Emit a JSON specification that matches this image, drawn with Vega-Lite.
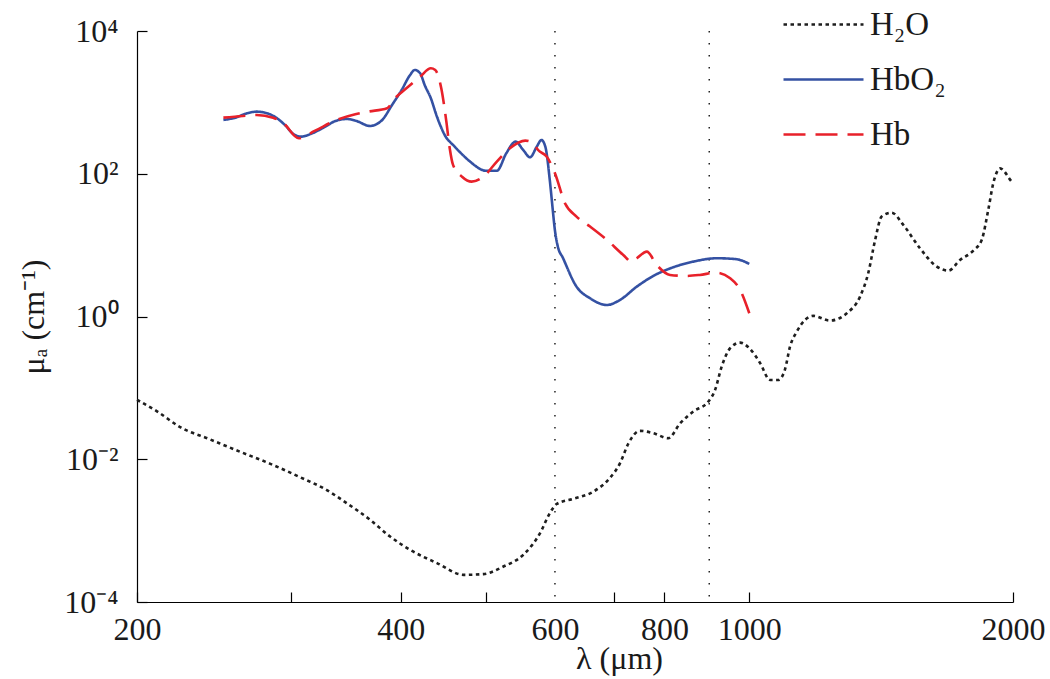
{
  "$schema": "https://vega.github.io/schema/vega-lite/v6.json",
  "width": 876,
  "height": 571,
  "autosize": {"type": "none"},
  "padding": {"left": 137, "top": 31, "right": 37, "bottom": 77},
  "background": "white",
  "config": {
    "view": {"stroke": null},
    "font": "Liberation Serif",
    "axis": {"domainColor": "#000", "domainWidth": 1.2, "tickColor": "#000", "tickWidth": 1.2, "labelColor": "#1a1a1a", "titleColor": "#1a1a1a", "labelFont": "Liberation Serif", "titleFont": "Liberation Serif", "titleFontWeight": "normal", "grid": false}
  },
  "layer": [
    {
      "data": {"values": [{"v": 600}, {"v": 900}]},
      "mark": {"type": "rule", "strokeDash": [1.5, 10.5], "color": "#000", "strokeWidth": 1.3},
      "encoding": {
        "x": {"field": "v", "type": "quantitative", "scale": {"type": "log", "domain": [200, 2000], "nice": false}}
      }
    },
    {
      "data": {"values": [
        {"s": "H₂O", "x": 200, "y": 0.068}, {"s": "H₂O", "x": 211, "y": 0.0466}, {"s": "H₂O", "x": 224, "y": 0.0282}, {"s": "H₂O", "x": 242, "y": 0.0191}, {"s": "H₂O", "x": 262, "y": 0.0128}, {"s": "H₂O", "x": 284, "y": 0.00862}, {"s": "H₂O", "x": 307, "y": 0.00561}, {"s": "H₂O", "x": 329, "y": 0.00373}, {"s": "H₂O", "x": 347, "y": 0.00243}, {"s": "H₂O", "x": 369, "y": 0.00142}, {"s": "H₂O", "x": 389, "y": 0.000827}, {"s": "H₂O", "x": 410, "y": 0.000538}, {"s": "H₂O", "x": 440, "y": 0.000351}, {"s": "H₂O", "x": 472, "y": 0.00024}, {"s": "H₂O", "x": 497, "y": 0.000246}, {"s": "H₂O", "x": 524, "y": 0.000314}, {"s": "H₂O", "x": 552, "y": 0.000458}, {"s": "H₂O", "x": 577, "y": 0.000923}, {"s": "H₂O", "x": 592, "y": 0.00176}, {"s": "H₂O", "x": 603, "y": 0.00237}, {"s": "H₂O", "x": 630, "y": 0.00279}, {"s": "H₂O", "x": 664, "y": 0.00353}, {"s": "H₂O", "x": 693, "y": 0.00544}, {"s": "H₂O", "x": 712, "y": 0.00882}, {"s": "H₂O", "x": 728, "y": 0.0168}, {"s": "H₂O", "x": 750, "y": 0.025}, {"s": "H₂O", "x": 777, "y": 0.0232}, {"s": "H₂O", "x": 808, "y": 0.0197}, {"s": "H₂O", "x": 834, "y": 0.032}, {"s": "H₂O", "x": 863, "y": 0.0466}, {"s": "H₂O", "x": 898, "y": 0.0643}, {"s": "H₂O", "x": 914, "y": 0.0938}, {"s": "H₂O", "x": 930, "y": 0.199}, {"s": "H₂O", "x": 951, "y": 0.36}, {"s": "H₂O", "x": 976, "y": 0.431}, {"s": "H₂O", "x": 1000, "y": 0.36}, {"s": "H₂O", "x": 1029, "y": 0.222}, {"s": "H₂O", "x": 1056, "y": 0.129}, {"s": "H₂O", "x": 1079, "y": 0.129}, {"s": "H₂O", "x": 1098, "y": 0.179}, {"s": "H₂O", "x": 1113, "y": 0.379}, {"s": "H₂O", "x": 1133, "y": 0.614}, {"s": "H₂O", "x": 1183, "y": 1.02}, {"s": "H₂O", "x": 1236, "y": 0.876}, {"s": "H₂O", "x": 1292, "y": 1.11}, {"s": "H₂O", "x": 1338, "y": 1.9}, {"s": "H₂O", "x": 1367, "y": 4.04}, {"s": "H₂O", "x": 1392, "y": 11.8}, {"s": "H₂O", "x": 1416, "y": 25.1}, {"s": "H₂O", "x": 1454, "y": 28.5}, {"s": "H₂O", "x": 1499, "y": 19.2}, {"s": "H₂O", "x": 1566, "y": 9.05}, {"s": "H₂O", "x": 1637, "y": 5.0}, {"s": "H₂O", "x": 1688, "y": 4.39}, {"s": "H₂O", "x": 1740, "y": 6.2}, {"s": "H₂O", "x": 1802, "y": 8.38}, {"s": "H₂O", "x": 1842, "y": 11.8}, {"s": "H₂O", "x": 1874, "y": 31.1}, {"s": "H₂O", "x": 1899, "y": 73.6}, {"s": "H₂O", "x": 1933, "y": 119}, {"s": "H₂O", "x": 1993, "y": 77.5}, {"s": "H₂O", "x": 2000, "y": 74},
        {"s": "HbO₂", "x": 251, "y": 567}, {"s": "HbO₂", "x": 259, "y": 611}, {"s": "HbO₂", "x": 267, "y": 703}, {"s": "HbO₂", "x": 274, "y": 741}, {"s": "HbO₂", "x": 280, "y": 718}, {"s": "HbO₂", "x": 289, "y": 599}, {"s": "HbO₂", "x": 295, "y": 483}, {"s": "HbO₂", "x": 302, "y": 357}, {"s": "HbO₂", "x": 308, "y": 331}, {"s": "HbO₂", "x": 317, "y": 369}, {"s": "HbO₂", "x": 328, "y": 457}, {"s": "HbO₂", "x": 337, "y": 549}, {"s": "HbO₂", "x": 347, "y": 585}, {"s": "HbO₂", "x": 356, "y": 549}, {"s": "HbO₂", "x": 369, "y": 467}, {"s": "HbO₂", "x": 381, "y": 567}, {"s": "HbO₂", "x": 391, "y": 919}, {"s": "HbO₂", "x": 401, "y": 1492}, {"s": "HbO₂", "x": 410, "y": 2420}, {"s": "HbO₂", "x": 415, "y": 2843}, {"s": "HbO₂", "x": 421, "y": 2556}, {"s": "HbO₂", "x": 426, "y": 1753}, {"s": "HbO₂", "x": 433, "y": 1141}, {"s": "HbO₂", "x": 440, "y": 630}, {"s": "HbO₂", "x": 449, "y": 350}, {"s": "HbO₂", "x": 461, "y": 240}, {"s": "HbO₂", "x": 473, "y": 174}, {"s": "HbO₂", "x": 480, "y": 148}, {"s": "HbO₂", "x": 501, "y": 110}, {"s": "HbO₂", "x": 515, "y": 110}, {"s": "HbO₂", "x": 528, "y": 194}, {"s": "HbO₂", "x": 541, "y": 282}, {"s": "HbO₂", "x": 552, "y": 215}, {"s": "HbO₂", "x": 562, "y": 170}, {"s": "HbO₂", "x": 572, "y": 240}, {"s": "HbO₂", "x": 579, "y": 297}, {"s": "HbO₂", "x": 585, "y": 240}, {"s": "HbO₂", "x": 592, "y": 80}, {"s": "HbO₂", "x": 596, "y": 35}, {"s": "HbO₂", "x": 600, "y": 16}, {"s": "HbO₂", "x": 604, "y": 10}, {"s": "HbO₂", "x": 613, "y": 6.55}, {"s": "HbO₂", "x": 635, "y": 2.62}, {"s": "HbO₂", "x": 658, "y": 1.8}, {"s": "HbO₂", "x": 688, "y": 1.45}, {"s": "HbO₂", "x": 712, "y": 1.71}, {"s": "HbO₂", "x": 744, "y": 2.62}, {"s": "HbO₂", "x": 777, "y": 3.7}, {"s": "HbO₂", "x": 819, "y": 4.9}, {"s": "HbO₂", "x": 863, "y": 5.87}, {"s": "HbO₂", "x": 918, "y": 6.55}, {"s": "HbO₂", "x": 967, "y": 6.35}, {"s": "HbO₂", "x": 1000, "y": 5.45},
        {"s": "Hb", "x": 251, "y": 611}, {"s": "Hb", "x": 264, "y": 645}, {"s": "Hb", "x": 274, "y": 666}, {"s": "Hb", "x": 286, "y": 611}, {"s": "Hb", "x": 294, "y": 510}, {"s": "Hb", "x": 306, "y": 314}, {"s": "Hb", "x": 319, "y": 398}, {"s": "Hb", "x": 338, "y": 567}, {"s": "Hb", "x": 355, "y": 681}, {"s": "Hb", "x": 367, "y": 741}, {"s": "Hb", "x": 386, "y": 827}, {"s": "Hb", "x": 394, "y": 1141}, {"s": "Hb", "x": 406, "y": 1576}, {"s": "Hb", "x": 421, "y": 2291}, {"s": "Hb", "x": 433, "y": 3003}, {"s": "Hb", "x": 438, "y": 2843}, {"s": "Hb", "x": 445, "y": 1576}, {"s": "Hb", "x": 451, "y": 537}, {"s": "Hb", "x": 455, "y": 228}, {"s": "Hb", "x": 459, "y": 133}, {"s": "Hb", "x": 470, "y": 91}, {"s": "Hb", "x": 482, "y": 77.5}, {"s": "Hb", "x": 497, "y": 91}, {"s": "Hb", "x": 515, "y": 148}, {"s": "Hb", "x": 533, "y": 228}, {"s": "Hb", "x": 555, "y": 291}, {"s": "Hb", "x": 567, "y": 267}, {"s": "Hb", "x": 574, "y": 215}, {"s": "Hb", "x": 587, "y": 174}, {"s": "Hb", "x": 600, "y": 102}, {"s": "Hb", "x": 616, "y": 38.6}, {"s": "Hb", "x": 635, "y": 25.1}, {"s": "Hb", "x": 658, "y": 18.2}, {"s": "Hb", "x": 688, "y": 11.8}, {"s": "Hb", "x": 718, "y": 7.29}, {"s": "Hb", "x": 734, "y": 5.87}, {"s": "Hb", "x": 744, "y": 6.55}, {"s": "Hb", "x": 764, "y": 8.11}, {"s": "Hb", "x": 784, "y": 5.28}, {"s": "Hb", "x": 812, "y": 3.82}, {"s": "Hb", "x": 848, "y": 3.7}, {"s": "Hb", "x": 878, "y": 3.82}, {"s": "Hb", "x": 916, "y": 4.12}, {"s": "Hb", "x": 951, "y": 3.44}, {"s": "Hb", "x": 976, "y": 2.36}, {"s": "Hb", "x": 1000, "y": 1.11}
      ]},
      "mark": {"type": "line", "interpolate": "monotone", "strokeWidth": 2.6},
      "encoding": {
        "x": {
          "field": "x", "type": "quantitative",
          "scale": {"type": "log", "domain": [200, 2000], "nice": false},
          "axis": {
            "values": [200, 300, 400, 500, 600, 700, 800, 900, 1000, 2000],
            "labelExpr": "indexof([200,400,600,800,1000,2000], datum.value) >= 0 ? toString(datum.value) : ''",
            "labelOverlap": false, "labelFlush": false,
            "tickSize": -10, "labelPadding": 22, "labelFontSize": 32, "labelBaseline": "top",
            "tickOpacity": {"condition": {"test": "datum.value == 600 || datum.value == 900", "value": 0}, "value": 1},
            "title": "λ (μm)", "titleFontSize": 32, "titleX": 482, "titleY": 66, "titleBaseline": "alphabetic", "titleAlign": "center"
          }
        },
        "y": {
          "field": "y", "type": "quantitative",
          "scale": {"type": "log", "domain": [0.0001, 10000], "nice": false},
          "axis": {
            "values": [0.0001, 0.01, 1, 100, 10000],
            "labelExpr": "datum.value >= 5000 ? '10⁴' : datum.value >= 50 ? '10²' : datum.value >= 0.5 ? '10⁰' : datum.value >= 0.005 ? '10⁻²' : '10⁻⁴'",
            "labelOverlap": false, "labelFlush": false,
            "tickSize": -10, "labelPadding": 29, "labelFontSize": 32,
            "title": "μₐ (cm⁻¹)", "titleFontSize": 32, "titleX": -94, "titleY": 285.5, "titleBaseline": "alphabetic", "titleAlign": "center", "titleAngle": -90
          }
        },
        "color": {
          "field": "s", "type": "nominal",
          "scale": {"domain": ["H₂O", "HbO₂", "Hb"], "range": ["#1e1e1e", "#3451a3", "#e8212a"]},
          "legend": {"orient": "none", "legendX": 670, "legendY": -23, "title": null, "symbolType": "M-8,0L8,0", "symbolSize": 100, "symbolStrokeWidth": 2.6, "labelFontSize": 33, "labelFont": "Liberation Serif", "labelColor": "#1a1a1a", "labelOffset": 30, "rowPadding": 21, "padding": 0, "labelLimit": 300}
        },
        "strokeDash": {
          "field": "s", "type": "nominal",
          "scale": {"domain": ["H₂O", "HbO₂", "Hb"], "range": [[3.5, 3.5], [1, 0], [22, 10]]},
          "legend": {"orient": "none", "legendX": 670, "legendY": -23, "title": null, "symbolType": "M-8,0L8,0", "symbolSize": 100, "symbolStrokeWidth": 2.6, "labelFontSize": 33, "labelFont": "Liberation Serif", "labelColor": "#1a1a1a", "labelOffset": 30, "rowPadding": 21, "padding": 0, "labelLimit": 300}
        }
      }
    }
  ]
}
